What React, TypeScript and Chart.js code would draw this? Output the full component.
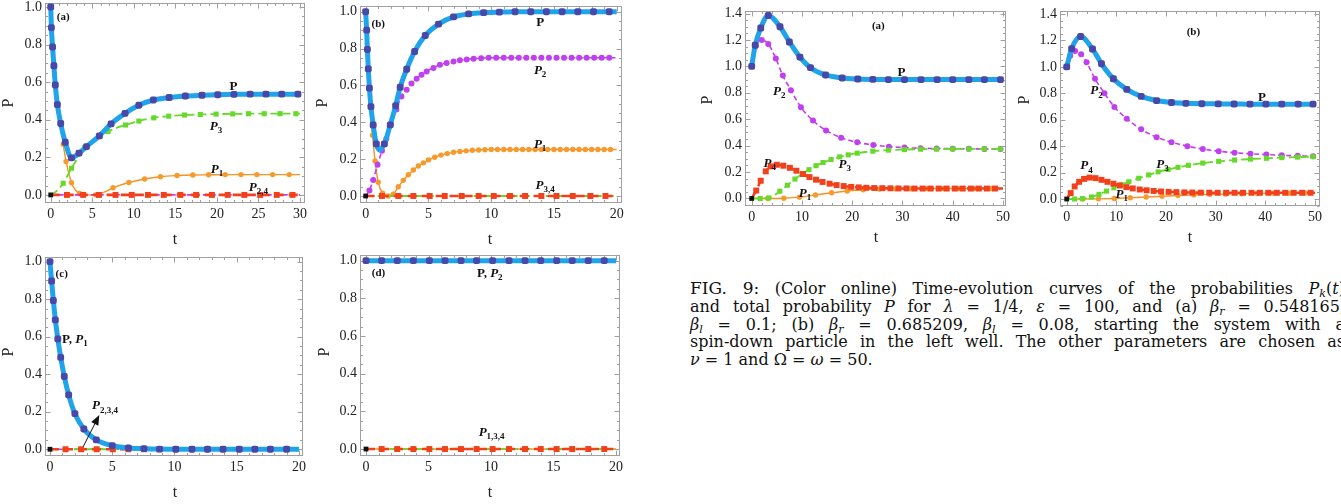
import React, { useEffect, useRef } from "react";
import { Chart, registerables } from "chart.js";

Chart.register(...registerables);

const SERIF = '"Liberation Serif", "Times New Roman", serif';

/* ===================== DATA ===================== */
// ---- tick labels ----
const X_TICKS_30 = [0, 5, 10, 15, 20, 25, 30];
const X_TICKS_20 = [0, 5, 10, 15, 20];
const X_TICKS_50 = [0, 10, 20, 30, 40, 50];
const Y_TICKS_10 = [0, 0.2, 0.4, 0.6, 0.8, 1.0];
const Y_TICKS_14 = [0, 0.2, 0.4, 0.6, 0.8, 1.0, 1.2, 1.4];

// ---- left figure, panel (a) ----
const A_P_T = [0, 0.08, 0.22, 0.38, 0.55, 0.8, 1.2, 1.75, 2.5, 3.4, 4.3, 5.85, 7.26, 8.94, 10.6, 12.35, 14.25, 16.2, 18.2, 20.1, 22.05, 24.0, 25.9, 27.8, 29.75, 30];
const A_P_Y = [1.0, 0.89, 0.787, 0.687, 0.585, 0.48, 0.38, 0.28, 0.197, 0.222, 0.257, 0.314, 0.378, 0.434, 0.477, 0.505, 0.518, 0.526, 0.53, 0.533, 0.535, 0.536, 0.536, 0.536, 0.536, 0.536];
const A_P1_T = [0, 0.4, 0.8, 1.2, 1.5, 1.85, 2.5, 3.45, 4.5, 5.5, 6.5, 7.5, 9.4, 11.3, 13.2, 15.2, 17.1, 19.0, 21.0, 22.9, 24.8, 26.7, 28.7, 30];
const A_P1_Y = [1.0, 0.687, 0.48, 0.375, 0.27, 0.178, 0.065, 0.008, 0, 0.001, 0.016, 0.038, 0.066, 0.085, 0.097, 0.103, 0.106, 0.107, 0.108, 0.108, 0.108, 0.108, 0.108, 0.108];
const A_P3_T = [0, 0.7, 1.5, 2.5, 3.3, 4.05, 5.0, 5.9, 6.9, 8.0, 9.0, 10.6, 12.4, 14.2, 16.1, 18.0, 19.9, 21.9, 23.8, 25.7, 27.6, 29.5, 30];
const A_P3_Y = [0, 0.02, 0.062, 0.142, 0.2, 0.25, 0.285, 0.31, 0.337, 0.358, 0.372, 0.393, 0.41, 0.419, 0.425, 0.428, 0.43, 0.431, 0.432, 0.432, 0.432, 0.432, 0.432];
const A_P2_T = [0, 30];
const A_P2_Y = [0, 0];
const A_P4_T = [0, 1.95, 3.9, 5.8, 7.8, 9.75, 11.7, 13.6, 15.6, 17.5, 19.4, 21.3, 23.3, 25.2, 27.2, 29.1, 30];
const A_P4_Y = [0, 0, 0, 0, 0, 0, 0, 0, 0, 0, 0, 0, 0, 0, 0, 0, 0];

// ---- left figure, panel (b) ----
const B_P_T = [0, 0.08, 0.14, 0.21, 0.3, 0.42, 0.6, 0.85, 1.1, 1.49, 1.96, 2.39, 2.75, 3.27, 3.9, 4.75, 5.8, 7.0, 8.2, 9.4, 10.65, 11.9, 13.15, 14.4, 15.65, 16.9, 18.15, 19.4, 20];
const B_P_Y = [1.0, 0.9, 0.795, 0.69, 0.585, 0.485, 0.385, 0.283, 0.25, 0.283, 0.386, 0.49, 0.59, 0.688, 0.784, 0.871, 0.933, 0.972, 0.988, 0.995, 0.998, 1, 1, 1, 1, 1, 1, 1, 1];
const B_P2_T = [0, 0.3, 0.6, 0.95, 1.3, 1.65, 2.0, 2.45, 2.85, 3.27, 3.65, 4.06, 4.45, 4.86, 5.4, 5.92, 6.45, 7.0, 7.5, 8.05, 8.6, 9.2, 9.8, 10.4, 11.0, 11.6, 12.2, 12.8, 13.4, 14.0, 14.6, 15.2, 15.8, 16.4, 17.0, 17.6, 18.2, 18.8, 19.4, 20];
const B_P2_Y = [0, 0.03, 0.087, 0.17, 0.245, 0.31, 0.39, 0.47, 0.54, 0.576, 0.61, 0.636, 0.658, 0.676, 0.695, 0.712, 0.722, 0.73, 0.736, 0.741, 0.745, 0.748, 0.75, 0.75, 0.75, 0.75, 0.75, 0.75, 0.75, 0.75, 0.75, 0.75, 0.75, 0.75, 0.75, 0.75, 0.75, 0.75, 0.75, 0.75];
const B_P1_T = [0, 0.3, 0.55, 0.75, 1.0, 1.35, 1.8, 2.2, 2.6, 3.0, 3.4, 3.8, 4.2, 4.6, 5.0, 5.5, 6.0, 6.5, 7.0, 7.5, 8.0, 8.5, 9.0, 9.5, 10.0, 10.5, 11.0, 11.5, 12.0, 12.5, 13.0, 13.5, 14.0, 14.5, 15.0, 15.5, 16.0, 16.5, 17.0, 17.5, 18.0, 18.5, 19.0, 19.5, 20];
const B_P1_Y = [1.0, 0.56, 0.33, 0.19, 0.075, 0.015, 0, 0.01, 0.05, 0.085, 0.115, 0.141, 0.163, 0.18, 0.196, 0.21, 0.222, 0.23, 0.237, 0.242, 0.245, 0.248, 0.25, 0.251, 0.252, 0.252, 0.252, 0.252, 0.252, 0.252, 0.252, 0.252, 0.252, 0.252, 0.252, 0.252, 0.252, 0.252, 0.252, 0.252, 0.252, 0.252, 0.252, 0.252, 0.252];
const B_P3_T = [0, 20];
const B_P3_Y = [0, 0];
const B_P4_T = [0, 1.3, 2.6, 3.8, 5.1, 6.3, 7.65, 9.0, 10.2, 11.5, 12.7, 14.0, 15.2, 16.5, 17.9, 19.1, 20];
const B_P4_Y = [0, 0, 0, 0, 0, 0, 0, 0, 0, 0, 0, 0, 0, 0, 0, 0, 0];

// ---- left figure, panel (c) ----
const C_P_T = [0, 0.13, 0.27, 0.43, 0.63, 0.86, 1.15, 1.5, 2.0, 2.72, 3.72, 5.0, 6.3, 7.55, 8.8, 10.1, 11.4, 12.65, 13.9, 15.2, 16.45, 17.7, 19.0, 20];
const C_P_Y = [1.0, 0.897, 0.793, 0.69, 0.588, 0.49, 0.388, 0.29, 0.19, 0.108, 0.05, 0.019, 0.007, 0.003, 0.001, 0, 0, 0, 0, 0, 0, 0, 0, 0];
const C_ZERO_T = [0, 20];
const C_ZERO_Y = [0, 0];
const C_P4_T = [0, 1.25, 2.5, 3.75, 5.05, 6.3, 7.55, 8.8, 10.1, 11.4, 12.65, 13.9, 15.2, 16.45, 17.7, 19.0, 20];
const C_P4_Y = [0, 0, 0, 0, 0, 0, 0, 0, 0, 0, 0, 0, 0, 0, 0, 0, 0];

// ---- left figure, panel (d) ----
const D_T = [0, 1.25, 2.5, 3.79, 5.07, 6.32, 7.6, 8.85, 10.13, 11.44, 12.72, 13.98, 15.25, 16.5, 17.78, 19.06, 20];
const D_P_Y = [1, 1, 1, 1, 1, 1, 1, 1, 1, 1, 1, 1, 1, 1, 1, 1, 1];
const D_P4_Y = [0, 0, 0, 0, 0, 0, 0, 0, 0, 0, 0, 0, 0, 0, 0, 0, 0];
const D_ZERO_T = [0, 20];
const D_ZERO_Y = [0, 0];

// ---- right figure, panel (a) ----
const RA_P_T = [0, 0.7, 1.8, 3.3, 5.63, 7.5, 9.6, 11.7, 14.7, 18.0, 21.1, 24.1, 27.2, 30.4, 33.7, 36.9, 40.0, 43.2, 46.3, 49.5, 50];
const RA_P_Y = [1.0, 1.16, 1.29, 1.385, 1.3, 1.184, 1.07, 0.99, 0.935, 0.912, 0.904, 0.901, 0.9, 0.9, 0.9, 0.9, 0.9, 0.9, 0.9, 0.9, 0.9];
const RA_P2_T = [0, 0.8, 2.0, 3.3, 4.8, 6.2, 7.8, 9.8, 12.2, 14.8, 17.8, 21.0, 24.2, 27.3, 30.4, 33.6, 36.8, 40.0, 43.2, 46.3, 49.5, 50];
const RA_P2_Y = [1.0, 1.155, 1.2, 1.17, 1.06, 0.93, 0.82, 0.69, 0.59, 0.515, 0.46, 0.425, 0.405, 0.392, 0.385, 0.38, 0.378, 0.377, 0.376, 0.375, 0.375, 0.375];
const RA_P4_T = [0, 0.9, 1.8, 2.8, 3.8, 5.0, 6.3, 7.6, 8.9, 10.2, 11.5, 12.8, 14.1, 15.5, 16.9, 18.3, 19.8, 21.3, 22.8, 24.4, 26.0, 27.6, 29.2, 30.8, 32.4, 34.0, 35.6, 37.2, 38.8, 40.4, 42.0, 43.6, 45.2, 46.8, 48.4, 50];
const RA_P4_Y = [0, 0.06, 0.134, 0.205, 0.243, 0.255, 0.248, 0.232, 0.21, 0.185, 0.162, 0.142, 0.125, 0.112, 0.101, 0.094, 0.088, 0.084, 0.081, 0.079, 0.078, 0.077, 0.076, 0.076, 0.075, 0.075, 0.075, 0.075, 0.075, 0.075, 0.075, 0.075, 0.075, 0.075, 0.075, 0.075];
const RA_P3_T = [0, 1.7, 3.4, 5.6, 7.1, 8.6, 10.0, 11.4, 12.8, 14.2, 15.8, 17.5, 19.2, 21.0, 24.1, 27.2, 30.4, 33.6, 36.8, 40.0, 43.2, 46.3, 49.5, 50];
const RA_P3_Y = [0, 0, 0.004, 0.055, 0.1, 0.147, 0.185, 0.218, 0.248, 0.272, 0.295, 0.315, 0.33, 0.343, 0.358, 0.366, 0.37, 0.373, 0.374, 0.375, 0.375, 0.375, 0.375, 0.375];
const RA_P1_T = [0, 3.2, 6.4, 9.5, 12.7, 15.9, 19.0, 22.2, 25.4, 28.6, 31.7, 34.9, 38.1, 41.2, 44.4, 47.6, 50];
const RA_P1_Y = [0, 0, 0.002, 0.01, 0.026, 0.043, 0.057, 0.066, 0.071, 0.073, 0.074, 0.075, 0.075, 0.075, 0.075, 0.075, 0.075];

// ---- right figure, panel (b) ----
const RB_P_T = [0, 1.0, 2.8, 5.2, 7.0, 9.4, 12.1, 15.0, 18.1, 21.1, 24.0, 27.2, 30.5, 33.7, 36.9, 40.1, 43.3, 46.6, 49.6, 50];
const RB_P_Y = [1.0, 1.138, 1.23, 1.135, 1.024, 0.91, 0.83, 0.777, 0.745, 0.73, 0.724, 0.721, 0.72, 0.719, 0.718, 0.718, 0.718, 0.718, 0.718, 0.718];
const RB_P2_T = [0, 0.7, 1.7, 2.9, 4.0, 5.7, 7.6, 9.6, 12.1, 15.0, 18.1, 21.1, 24.3, 27.4, 30.6, 33.8, 37.0, 40.2, 43.3, 46.5, 49.6, 50];
const RB_P2_Y = [1.0, 1.085, 1.12, 1.095, 1.035, 0.91, 0.8, 0.696, 0.607, 0.527, 0.468, 0.43, 0.4, 0.378, 0.362, 0.35, 0.342, 0.336, 0.331, 0.327, 0.324, 0.324];
const RB_P4_T = [0, 0.8, 1.6, 2.5, 3.5, 4.6, 5.8, 7.0, 8.2, 9.4, 10.7, 12.0, 13.3, 14.7, 16.1, 17.5, 19.0, 20.5, 22.1, 23.7, 25.3, 27.0, 28.7, 30.4, 32.1, 33.8, 35.5, 37.2, 38.9, 40.6, 42.3, 44.0, 45.7, 47.4, 49.1, 50];
const RB_P4_Y = [0, 0.045, 0.095, 0.13, 0.152, 0.162, 0.158, 0.145, 0.13, 0.116, 0.102, 0.09, 0.08, 0.072, 0.066, 0.061, 0.057, 0.054, 0.052, 0.05, 0.049, 0.048, 0.048, 0.047, 0.047, 0.047, 0.047, 0.047, 0.047, 0.047, 0.047, 0.047, 0.047, 0.047, 0.047, 0.047];
const RB_P3_T = [0, 1.6, 3.2, 5.0, 6.5, 8.0, 9.5, 11.0, 12.5, 14.5, 16.5, 18.4, 20.4, 22.4, 24.5, 27.4, 30.6, 33.8, 37.0, 40.2, 43.3, 46.5, 49.6, 50];
const RB_P3_Y = [0, 0, 0.003, 0.015, 0.035, 0.06, 0.085, 0.108, 0.13, 0.157, 0.182, 0.205, 0.223, 0.24, 0.255, 0.272, 0.285, 0.295, 0.302, 0.308, 0.313, 0.317, 0.32, 0.32];
const RB_P1_T = [0, 3.2, 6.4, 9.6, 12.8, 16.0, 19.2, 22.4, 25.6, 28.8, 32.0, 35.2, 38.4, 41.6, 44.8, 48.0, 50];
const RB_P1_Y = [0, 0, 0.001, 0.004, 0.009, 0.015, 0.021, 0.026, 0.031, 0.035, 0.038, 0.04, 0.042, 0.043, 0.044, 0.045, 0.045];

/* ===================== STYLES ===================== */
type Key = "P" | "P1" | "P2" | "P3" | "P4";
const STYLE: Record<Key, { line: string; width: number; dash: number[]; fill: string; shape: string; r: number }> = {
  P: { line: "#1fa3ea", width: 5, dash: [], fill: "#4848a8", shape: "rectRounded", r: 4 },
  P1: { line: "#f7931e", width: 1.4, dash: [], fill: "#f79a2e", shape: "circle", r: 2.7 },
  P2: { line: "#c33ff0", width: 1.6, dash: [5, 3], fill: "#c040f0", shape: "circle", r: 3 },
  P3: { line: "#66d92a", width: 1.8, dash: [8, 4], fill: "#66d92a", shape: "rect", r: 3.6 },
  P4: { line: "#f2401c", width: 2.6, dash: [9, 5], fill: "#f2401c", shape: "rect", r: 4.2 },
};

type Part = [string, "b" | "bi" | "s" | "r"];
interface LabelDef { x: number; y: number; parts: Part[]; size?: number }
interface SeriesDef { key: Key; t: number[]; y: number[]; bare?: number[]; marks?: boolean }
interface PanelDef {
  area: [number, number, number, number];
  xRange: [number, number];
  yRange: [number, number];
  xTicks: number[];
  yTicks: number[];
  xMinor: number;
  yMinor: number;
  series: SeriesDef[];
  labels: LabelDef[];
  yTitle: [number, number];
  xTitle: [number, number];
  arrow?: [number, number, number, number];
}

const PANELS: PanelDef[] = [
  {
    area: [45, 3, 305, 203], xRange: [-0.69, 30.6], yRange: [-0.043, 1.021],
    xTicks: X_TICKS_30, yTicks: Y_TICKS_10, xMinor: 1, yMinor: 0.05,
    series: [
      { key: "P", t: A_P_T, y: A_P_Y, bare: [25] },
      { key: "P4", t: A_P4_T, y: A_P4_Y, bare: [0, 16] },
      { key: "P3", t: A_P3_T, y: A_P3_Y, bare: [0, 1, 4, 6, 9, 22] },
      { key: "P2", t: A_P2_T, y: A_P2_Y, marks: false },
      { key: "P1", t: A_P1_T, y: A_P1_Y, bare: [0, 1, 2, 3, 8, 10, 23] },
    ],
    labels: [
      { x: 1.5, y: 0.95, parts: [["(a)", "b"]], size: 11 },
      { x: 22, y: 0.58, parts: [["P", "b"]] },
      { x: 19.9, y: 0.367, parts: [["P", "bi"], ["3", "s"]] },
      { x: 20, y: 0.142, parts: [["P", "bi"], ["1", "s"]] },
      { x: 25, y: 0.045, parts: [["P", "bi"], ["2,4", "s"]] },
    ],
    yTitle: [9, 103], xTitle: [175, 240],
  },
  {
    area: [360, 6, 622, 203], xRange: [-0.45, 20.42], yRange: [-0.038, 1.031],
    xTicks: X_TICKS_20, yTicks: Y_TICKS_10, xMinor: 1, yMinor: 0.05,
    series: [
      { key: "P", t: B_P_T, y: B_P_Y, bare: [8, 28] },
      { key: "P4", t: B_P4_T, y: B_P4_Y, bare: [0, 16] },
      { key: "P3", t: B_P3_T, y: B_P3_Y, marks: false },
      { key: "P2", t: B_P2_T, y: B_P2_Y, bare: [0, 39] },
      { key: "P1", t: B_P1_T, y: B_P1_Y, bare: [0, 1, 44] },
    ],
    labels: [
      { x: 1.0, y: 0.937, parts: [["(b)", "b"]], size: 11 },
      { x: 13.9, y: 0.946, parts: [["P", "b"]] },
      { x: 13.9, y: 0.684, parts: [["P", "bi"], ["2", "s"]] },
      { x: 13.9, y: 0.286, parts: [["P", "bi"], ["1", "s"]] },
      { x: 14.3, y: 0.06, parts: [["P", "bi"], ["3,4", "s"]] },
    ],
    yTitle: [323, 103], xTitle: [490, 240],
  },
  {
    area: [45, 257, 303, 456], xRange: [-0.4, 20.32], yRange: [-0.036, 1.025],
    xTicks: X_TICKS_20, yTicks: Y_TICKS_10, xMinor: 1, yMinor: 0.05,
    series: [
      { key: "P", t: C_P_T, y: C_P_Y, bare: [23] },
      { key: "P4", t: C_P4_T, y: C_P4_Y, bare: [0, 16] },
      { key: "P3", t: C_ZERO_T, y: C_ZERO_Y, marks: false },
      { key: "P2", t: C_ZERO_T, y: C_ZERO_Y, marks: false },
      { key: "P1", t: C_P_T, y: C_P_Y, marks: false },
    ],
    labels: [
      { x: 0.94, y: 0.938, parts: [["(c)", "b"]], size: 11 },
      { x: 2.0, y: 0.59, parts: [["P, ", "b"], ["P", "bi"], ["1", "s"]] },
      { x: 4.42, y: 0.236, parts: [["P", "bi"], ["2,3,4", "s"]] },
    ],
    yTitle: [9, 352], xTitle: [175, 493],
    arrow: [2.67, 0.014, 3.96, 0.183],
  },
  {
    area: [360, 255, 620, 456], xRange: [-0.48, 20.32], yRange: [-0.037, 1.03],
    xTicks: X_TICKS_20, yTicks: Y_TICKS_10, xMinor: 1, yMinor: 0.05,
    series: [
      { key: "P", t: D_T, y: D_P_Y, bare: [16] },
      { key: "P4", t: D_T, y: D_P4_Y, bare: [0, 16] },
      { key: "P3", t: D_ZERO_T, y: D_ZERO_Y, marks: false },
      { key: "P2", t: D_T, y: D_P_Y, marks: false },
      { key: "P1", t: D_ZERO_T, y: D_ZERO_Y, marks: false },
    ],
    labels: [
      { x: 1.0, y: 0.938, parts: [["(d)", "b"]], size: 11 },
      { x: 9.9, y: 0.938, parts: [["P, ", "b"], ["P", "bi"], ["2", "s"]] },
      { x: 10.05, y: 0.092, parts: [["P", "bi"], ["1,3,4", "s"]] },
    ],
    yTitle: [325, 352], xTitle: [490, 493],
  },
  {
    area: [745, 11, 1006, 206], xRange: [-1.33, 50.6], yRange: [-0.057, 1.419],
    xTicks: X_TICKS_50, yTicks: Y_TICKS_14, xMinor: 2, yMinor: 0.05,
    series: [
      { key: "P", t: RA_P_T, y: RA_P_Y, bare: [20] },
      { key: "P4", t: RA_P4_T, y: RA_P4_Y, bare: [0, 35] },
      { key: "P3", t: RA_P3_T, y: RA_P3_Y, bare: [0, 23] },
      { key: "P2", t: RA_P2_T, y: RA_P2_Y, bare: [0, 21] },
      { key: "P1", t: RA_P1_T, y: RA_P1_Y, bare: [0, 16] },
    ],
    labels: [
      { x: 25.2, y: 1.313, parts: [["(a)", "b"]], size: 11 },
      { x: 29.8, y: 0.96, parts: [["P", "b"]] },
      { x: 5.5, y: 0.816, parts: [["P", "bi"], ["2", "s"]] },
      { x: 3.6, y: 0.271, parts: [["P", "bi"], ["4", "s"]] },
      { x: 18.5, y: 0.266, parts: [["P", "bi"], ["3", "s"]] },
      { x: 10.6, y: 0.044, parts: [["P", "bi"], ["1", "s"]] },
    ],
    yTitle: [708, 100], xTitle: [876, 238],
  },
  {
    area: [1060, 11, 1320, 206], xRange: [-1.35, 51.0], yRange: [-0.053, 1.423],
    xTicks: X_TICKS_50, yTicks: Y_TICKS_14, xMinor: 2, yMinor: 0.05,
    series: [
      { key: "P", t: RB_P_T, y: RB_P_Y, bare: [19] },
      { key: "P4", t: RB_P4_T, y: RB_P4_Y, bare: [0, 35] },
      { key: "P3", t: RB_P3_T, y: RB_P3_Y, bare: [0, 23] },
      { key: "P2", t: RB_P2_T, y: RB_P2_Y, bare: [0, 21] },
      { key: "P1", t: RB_P1_T, y: RB_P1_Y, bare: [0, 16] },
    ],
    labels: [
      { x: 25.5, y: 1.267, parts: [["(b)", "b"]], size: 11 },
      { x: 39.3, y: 0.774, parts: [["P", "b"]] },
      { x: 6.0, y: 0.825, parts: [["P", "bi"], ["2", "s"]] },
      { x: 4.0, y: 0.257, parts: [["P", "bi"], ["4", "s"]] },
      { x: 19.3, y: 0.27, parts: [["P", "bi"], ["3", "s"]] },
      { x: 11.1, y: 0.043, parts: [["P", "bi"], ["1", "s"]] },
    ],
    yTitle: [1025, 100], xTitle: [1190, 238],
  },
];

/* ===================== CHART BUILD ===================== */
const Y_AXIS_W = 45;
const PAD_T = 14;
const PAD_R = 15;
const X_AXIS_H = 48;

function canvasBox(def: PanelDef): [number, number, number, number] {
  const [l, t, r, b] = def.area;
  const left = l - Y_AXIS_W;
  const top = t - PAD_T;
  return [left, top, r + PAD_R - left, b + X_AXIS_H - top];
}

function dataset(s: SeriesDef) {
  const st = STYLE[s.key];
  const bare = s.bare || [];
  const radii = s.t.map((_, i) => (s.marks === false || bare.includes(i) ? 0 : st.r));
  return {
    label: s.key,
    data: s.t.map((t, i) => ({ x: t, y: s.y[i] })),
    borderColor: st.line,
    borderWidth: st.width,
    borderDash: st.dash,
    pointRadius: radii,
    pointHoverRadius: 0,
    pointStyle: st.shape,
    pointBackgroundColor: st.fill,
    pointBorderColor: st.fill,
    pointBorderWidth: 0,
    cubicInterpolationMode: "monotone",
    fill: false,
  };
}

function fontFor(style: string, size: number) {
  if (style === "b") return `bold ${size}px ${SERIF}`;
  if (style === "bi") return `italic bold ${size}px ${SERIF}`;
  if (style === "s") return `bold ${Math.round(size * 0.7)}px ${SERIF}`;
  return `${size}px ${SERIF}`;
}

function drawParts(ctx: CanvasRenderingContext2D, parts: Part[], cx: number, cy: number, size: number) {
  let total = 0;
  const ws = parts.map(([txt, st]) => {
    ctx.font = fontFor(st, size);
    const w = ctx.measureText(txt).width;
    total += w;
    return w;
  });
  let x = cx - total / 2;
  const base = cy + size * 0.33;
  ctx.textAlign = "left";
  ctx.textBaseline = "alphabetic";
  parts.forEach(([txt, st], i) => {
    ctx.font = fontFor(st, size);
    ctx.fillText(txt, x, st === "s" ? base + size * 0.25 : base);
    x += ws[i];
  });
}

function makePlugin(def: PanelDef, offX: number, offY: number) {
  const tickList = (major: number[], step: number, min: number, max: number) => {
    const out: [number, boolean][] = [];
    const k0 = Math.ceil(min / step - 1e-9);
    const k1 = Math.floor(max / step + 1e-9);
    for (let k = k0; k <= k1; k++) {
      const v = k * step;
      out.push([v, major.some((m) => Math.abs(m - v) < step * 1e-3)]);
    }
    return out;
  };
  return {
    id: "panelDecor",
    beforeDatasetsDraw(chart: any) {
      const { ctx, chartArea: a, scales } = chart;
      const xs = scales.x;
      const ys = scales.y;
      ctx.save();
      ctx.strokeStyle = "#a0a0a0";
      ctx.lineWidth = 1;
      const L = Math.round(a.left) + 0.5;
      const T = Math.round(a.top) + 0.5;
      const R = Math.round(a.right) - 0.5;
      const B = Math.round(a.bottom) - 0.5;
      ctx.strokeRect(L, T, R - L, B - T);
      ctx.beginPath();
      for (const [v, M] of tickList(def.xTicks, def.xMinor, def.xRange[0], def.xRange[1])) {
        const px = Math.round(xs.getPixelForValue(v)) + 0.5;
        const len = M ? 5 : 2.5;
        ctx.moveTo(px, B);
        ctx.lineTo(px, B - len);
        ctx.moveTo(px, T);
        ctx.lineTo(px, T + len);
      }
      for (const [v, M] of tickList(def.yTicks, def.yMinor, def.yRange[0], def.yRange[1])) {
        const py = Math.round(ys.getPixelForValue(v)) + 0.5;
        const len = M ? 5 : 2.5;
        ctx.moveTo(L, py);
        ctx.lineTo(L + len, py);
        ctx.moveTo(R, py);
        ctx.lineTo(R - len, py);
      }
      ctx.stroke();
      ctx.restore();
    },
    afterDatasetsDraw(chart: any) {
      const { ctx, scales } = chart;
      const xs = scales.x;
      const ys = scales.y;
      ctx.save();
      ctx.fillStyle = "#111";
      for (const lb of def.labels) {
        drawParts(ctx, lb.parts, xs.getPixelForValue(lb.x), ys.getPixelForValue(lb.y), lb.size || 13);
      }
      if (def.arrow) {
        const [t0, v0, t1, v1] = def.arrow;
        const x0 = xs.getPixelForValue(t0), y0 = ys.getPixelForValue(v0);
        const x1 = xs.getPixelForValue(t1), y1 = ys.getPixelForValue(v1);
        const ang = Math.atan2(y1 - y0, x1 - x0);
        ctx.strokeStyle = "#111";
        ctx.lineWidth = 1;
        ctx.beginPath();
        ctx.moveTo(x0, y0);
        ctx.lineTo(x1 - 6 * Math.cos(ang), y1 - 6 * Math.sin(ang));
        ctx.stroke();
        ctx.beginPath();
        ctx.moveTo(x1, y1);
        ctx.lineTo(x1 - 10 * Math.cos(ang) + 4 * Math.sin(ang), y1 - 10 * Math.sin(ang) - 4 * Math.cos(ang));
        ctx.lineTo(x1 - 10 * Math.cos(ang) - 4 * Math.sin(ang), y1 - 10 * Math.sin(ang) + 4 * Math.cos(ang));
        ctx.closePath();
        ctx.fill();
      }
      // axis titles
      ctx.font = `16px ${SERIF}`;
      ctx.fillStyle = "#222";
      ctx.textAlign = "center";
      ctx.textBaseline = "middle";
      ctx.fillText("t", def.xTitle[0] - offX, def.xTitle[1] - offY);
      ctx.translate(def.yTitle[0] - offX, def.yTitle[1] - offY);
      ctx.rotate(-Math.PI / 2);
      ctx.fillText("P", 0, 0);
      ctx.restore();
    },
  };
}

function Panel({ def }: { def: PanelDef }) {
  const ref = useRef<HTMLCanvasElement>(null);
  const [cl, ct, cw, ch] = canvasBox(def);
  useEffect(() => {
    const origin = {
      label: "start",
      data: [{ x: 0, y: 0 }],
      showLine: false,
      pointStyle: "rect",
      pointRadius: 3.4,
      pointHoverRadius: 0,
      pointBackgroundColor: "#111",
      pointBorderWidth: 0,
    };
    const tickFont = { family: SERIF, size: 14 };
    const chart = new Chart(ref.current as HTMLCanvasElement, {
      type: "line",
      data: { datasets: [origin, ...def.series.map(dataset)] as any },
      options: {
        animation: false,
        responsive: false,
        maintainAspectRatio: false,
        devicePixelRatio: 1,
        events: [],
        layout: { padding: { left: 0, top: PAD_T, right: PAD_R, bottom: 0 } },
        plugins: { legend: { display: false }, tooltip: { enabled: false } },
        scales: {
          x: {
            type: "linear",
            min: def.xRange[0],
            max: def.xRange[1],
            grid: { display: false, drawTicks: false },
            border: { display: false },
            ticks: {
              font: tickFont, color: "#222", padding: 3, maxRotation: 0, autoSkip: false,
              callback: (v: any) => String(Math.round(Number(v))),
            },
            afterBuildTicks: (s: any) => { s.ticks = def.xTicks.map((v) => ({ value: v })); },
            afterFit: (s: any) => { s.height = X_AXIS_H; s.paddingLeft = 0; s.paddingRight = 0; },
          },
          y: {
            type: "linear",
            min: def.yRange[0],
            max: def.yRange[1],
            grid: { display: false, drawTicks: false },
            border: { display: false },
            ticks: {
              font: tickFont, color: "#222", padding: 3, autoSkip: false,
              callback: (v: any) => Number(v).toFixed(1),
            },
            afterBuildTicks: (s: any) => { s.ticks = def.yTicks.map((v) => ({ value: v })); },
            afterFit: (s: any) => { s.width = Y_AXIS_W; s.paddingTop = 0; s.paddingBottom = 0; },
          },
        },
      } as any,
      plugins: [makePlugin(def, cl, ct)],
    });
    return () => chart.destroy();
  }, [def]);
  return (
    <canvas
      ref={ref}
      width={cw}
      height={ch}
      style={{ position: "absolute", left: cl, top: ct, width: cw, height: ch }}
    />
  );
}

/* ===================== CAPTION ===================== */
const CAP_FONT = '"DejaVu Serif", serif';
const subStyle: React.CSSProperties = { fontSize: "0.7em", verticalAlign: "-0.3em", lineHeight: 0 };

function capLine(top: number, justify: boolean): React.CSSProperties {
  return {
    position: "absolute",
    left: 690,
    top,
    width: 655,
    whiteSpace: "nowrap",
    textAlign: justify ? "justify" : "left",
    textAlignLast: justify ? "justify" : "auto",
    lineHeight: "17.5px",
  } as React.CSSProperties;
}

function Caption() {
  return (
    <div style={{ fontFamily: CAP_FONT, fontSize: 16, color: "#111" }}>
      <div style={capLine(280.4, true)}>
        <span style={{ fontSize: 17 }}>FIG. 9:</span> (Color online) Time-evolution curves of the probabilities{" "}
        <i>P</i><sub style={subStyle}><i>k</i></sub>(<i>t</i>)
      </div>
      <div style={capLine(298.2, true)}>
        and total probability <i>P</i> for <i>λ</i> = 1/4, <i>ε</i> = 100, and (a) <i>β</i>
        <sub style={subStyle}><i>r</i></sub> = 0.548165,
      </div>
      <div style={capLine(315.7, true)}>
        <i>β</i><sub style={subStyle}><i>l</i></sub> = 0.1; (b) <i>β</i><sub style={subStyle}><i>r</i></sub> = 0.685209,{" "}
        <i>β</i><sub style={subStyle}><i>l</i></sub> = 0.08, starting the system with a
      </div>
      <div style={capLine(333.2, true)}>
        spin-down particle in the left well. The other parameters are chosen as
      </div>
      <div style={capLine(350.7, false)}>
        <i>ν</i> = 1 and Ω = <i>ω</i> = 50.
      </div>
    </div>
  );
}

export default function App() {
  return (
    <div
      style={{
        position: "absolute",
        left: 0,
        top: 0,
        width: 1341,
        height: 504,
        overflow: "hidden",
        background: "#fff",
      }}
    >
      {PANELS.map((p, i) => (
        <Panel key={i} def={p} />
      ))}
      <Caption />
    </div>
  );
}
